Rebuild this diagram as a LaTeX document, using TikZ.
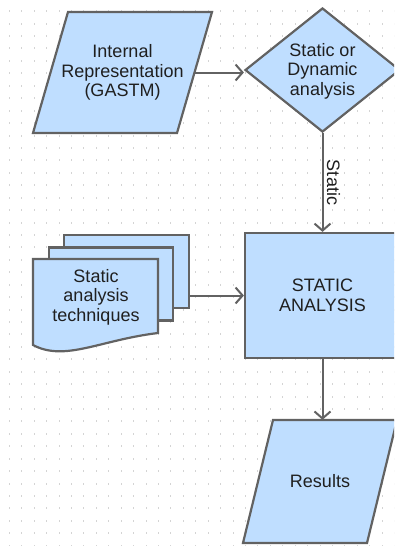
\documentclass[tikz,border=0pt]{standalone}
\usepackage{fontspec}
\setmainfont{Liberation Sans}
\usetikzlibrary{shapes,positioning,arrows.meta}
\definecolor{boxfill}{RGB}{191,222,255}
\definecolor{boxline}{RGB}{98,98,98}
\definecolor{griddot}{RGB}{212,212,212}

\begin{document}
\begin{tikzpicture}[x=1pt, y=-1pt]

        % Looks of the shapes, the texts and the arrows
        \tikzset{
            txt/.style={font=\fontsize{18}{19.5}\selectfont, text=black!88, align=center},
            shp/.style={draw=boxline, fill=boxfill, line width=2.2pt, inner sep=0pt},
            flow/.style={draw=boxline, line width=2pt, -{Straight Barb[length=7pt,width=16pt]}}
        }

        \useasboundingbox (0,0) rectangle (394,546);
        \clip (0,0) rectangle (394,546);
        \fill[white] (0,0) rectangle (394,546);

        % Dotted grid of the background
        \foreach \i in {0,...,31}
            \foreach \j in {0,...,43}
                \fill[griddot] (8.8+12.43*\i, 10.2+12.43*\j) rectangle ++(1,2);

        % Shapes of the flow chart
        \begin{scope}
            % the node spans the parallelogram at half height
            \draw[shp] (68,12) -- (212,12) -- (177,133) -- (33,133) -- cycle;
            \node[txt, minimum width=144pt, minimum height=121pt] (repr) at (122.5,72.5)
                {Internal\\Representation\\(GASTM)};

            \node[shp, diamond, minimum width=155pt, minimum height=124pt] (choice) at (322.5,70) {};
            \node[txt] (choicetxt) at (322.5,71) {Static or\\Dynamic\\analysis};

            \node[shp, rectangle, minimum width=155pt, minimum height=125pt] (box) at (322.5,295.5) {};
            \node[txt] (boxtxt) at (box) {STATIC\\ANALYSIS};

            \draw[shp] (273,420) -- (397,420) -- (367,543) -- (243,543) -- cycle;
            \node[txt, minimum width=124pt, minimum height=123pt] (results) at (320,481.5) {Results};

            % Stack of documents
            \node[shp, rectangle, minimum width=125pt, minimum height=73pt] (tech3) at (126.75,271.5) {};
            \node[shp, rectangle, minimum width=124pt, minimum height=73pt] (tech2) at (111,284) {};
            \draw[shp] (33,259) -- (158,259) -- (158,333)
                .. controls (100,340) and (65,362) .. (33,345) -- cycle;
            \node[txt] (techtxt) at (96,297) {Static\\analysis\\techniques};
        \end{scope}

        % Arrows between the shapes
        \begin{scope}
            \draw[flow] (repr.east) -- (repr.east -| choice.west);
            \draw[flow] (choice.south) -- node[txt, midway, xshift=11pt, rotate=-90] {Static} (box.north);
            \draw[flow] (box.west -| tech3.east) -- (box.west);
            \draw[flow] (box.south) -- (box.south |- results.north);
        \end{scope}

        \end{tikzpicture}
\end{document}
